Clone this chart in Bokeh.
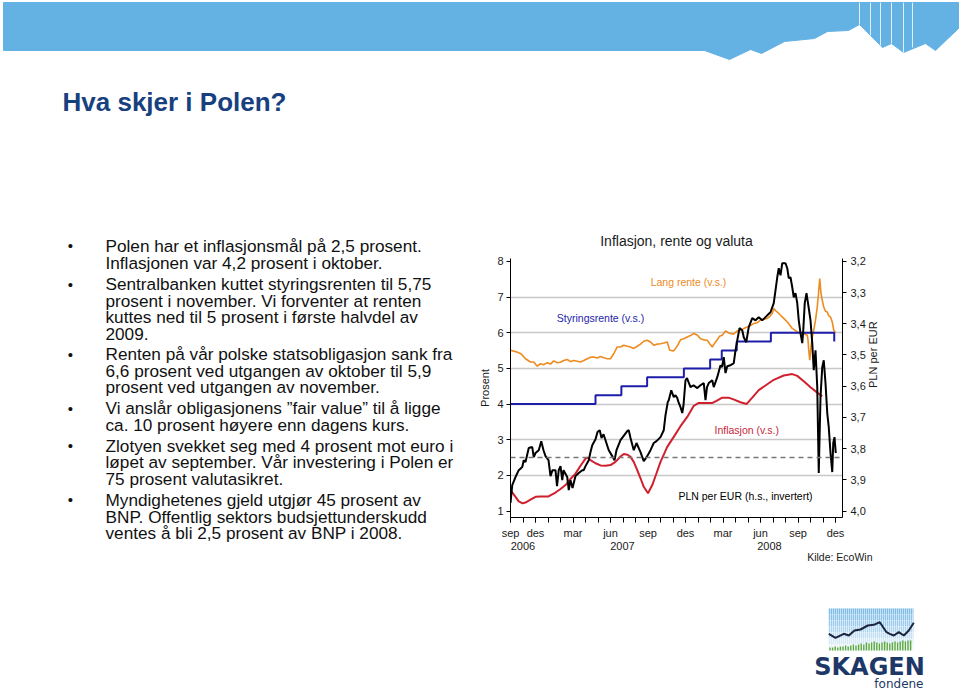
import json
import math
from bokeh.plotting import figure
from bokeh.layouts import column, row
from bokeh.models import Range1d, LinearAxis, FixedTicker, CustomJSTickFormatter, Span, Label, Title
from bokeh.embed import file_html
from bokeh.resources import INLINE
from bokeh.core.properties import value

# ---------------------------------------------------------------- data
MONTH_TICKS = [0, 2, 5, 8, 11, 14, 17, 20, 23, 26]
MONTH_LABELS = ["sep", "des", "mar", "jun", "sep", "des", "mar", "jun", "sep", "des"]
MONTH_MINOR = list(range(0, 27))
YEAR_TICKS = [1.0, 8.96, 20.72]
YEAR_LABELS = ["2006", "2007", "2008"]
PROSENT_TICKS = [1, 2, 3, 4, 5, 6, 7, 8]
GRID_TICKS = [2, 3, 4, 5, 6, 7]
PLN_TICKS = [3.2, 3.3, 3.4, 3.5, 3.6, 3.7, 3.8, 3.9, 4.0]
INFLATION_TARGET = 2.5

# months since start of axis, policy rate (step)
STYRING_M = [0.0, 6.8, 8.87, 10.93, 13.87, 15.97, 16.9, 18.1, 20.83, 25.9]
STYRING_V = [4.0, 4.25, 4.5, 4.75, 5.0, 5.25, 5.5, 5.75, 6.0, 5.75]

# long rate (month, percent)
LANG_RENTE = [
    (0.0, 5.51), (0.4, 5.47), (0.8, 5.42), (1.2, 5.27), (1.6, 5.18), (1.86, 5.18), (2.14, 5.06),
    (2.4, 5.13), (2.64, 5.10), (2.94, 5.16), (3.2, 5.12), (3.46, 5.21), (3.74, 5.16), (4.0, 5.17),
    (4.26, 5.22), (4.54, 5.25), (4.8, 5.19), (5.06, 5.22), (5.34, 5.20), (5.6, 5.18), (5.86, 5.22),
    (6.14, 5.27), (6.4, 5.31), (6.66, 5.32), (6.94, 5.29), (7.2, 5.33), (7.46, 5.30), (7.74, 5.27),
    (8.0, 5.27), (8.26, 5.41), (8.54, 5.60), (8.8, 5.60), (9.06, 5.65), (9.34, 5.62), (9.6, 5.60),
    (9.86, 5.56), (10.14, 5.62), (10.4, 5.68), (10.66, 5.76), (10.94, 5.79), (11.2, 5.74),
    (11.46, 5.65), (11.74, 5.68), (12.0, 5.69), (12.26, 5.71), (12.54, 5.74), (12.74, 5.51),
    (13.06, 5.49), (13.38, 5.65), (13.6, 5.80), (13.86, 5.83), (14.14, 5.88), (14.4, 5.92),
    (14.66, 5.98), (14.96, 5.93), (15.2, 5.83), (15.46, 5.80), (15.74, 5.79), (15.92, 5.70),
    (16.14, 5.60), (16.32, 5.70), (16.54, 5.80), (16.72, 5.90), (16.94, 5.93), (17.2, 6.05),
    (17.44, 6.00), (17.6, 5.98), (17.84, 5.96), (18.14, 6.05), (18.4, 6.06), (18.66, 6.12),
    (18.94, 6.16), (19.2, 6.20), (19.46, 6.26), (19.74, 6.28), (20.0, 6.35), (20.26, 6.38),
    (20.54, 6.40), (20.72, 6.45), (20.94, 6.54), (21.06, 6.68), (21.2, 6.62), (21.34, 6.58),
    (21.6, 6.49), (21.86, 6.40), (22.14, 6.30), (22.32, 6.22), (22.54, 6.12), (22.72, 6.08),
    (22.94, 6.02), (23.2, 5.99), (23.46, 5.98), (23.74, 5.93), (23.8, 5.80), (23.86, 5.51),
    (23.94, 5.23), (24.04, 5.60), (24.14, 5.88), (24.26, 6.07), (24.4, 6.35), (24.54, 6.72),
    (24.64, 7.10), (24.74, 7.52), (24.84, 7.10), (24.94, 6.91), (25.06, 6.72), (25.2, 6.60),
    (25.34, 6.58), (25.46, 6.48), (25.6, 6.44), (25.74, 6.30), (25.86, 6.07), (26.0, 6.00),
]

# inflation (month, percent)
INFLASJON = [
    (0.0, 1.59), (0.4, 1.40), (0.64, 1.28), (0.96, 1.215), (1.2, 1.24), (1.6, 1.32), (2.0, 1.40),
    (2.4, 1.41), (3.04, 1.41), (3.6, 1.52), (4.0, 1.62), (4.4, 1.73), (4.8, 1.90), (5.2, 2.05),
    (5.6, 2.27), (6.0, 2.47), (6.16, 2.50), (6.4, 2.43), (6.8, 2.34), (7.2, 2.28), (7.6, 2.27),
    (8.0, 2.29), (8.4, 2.38), (8.8, 2.53), (9.06, 2.60), (9.36, 2.58), (9.6, 2.52), (9.86, 2.38),
    (10.14, 2.15), (10.4, 1.92), (10.66, 1.68), (11.0, 1.50), (11.34, 1.73), (11.68, 2.06),
    (12.0, 2.38), (12.54, 2.80), (13.06, 3.08), (13.6, 3.38), (14.14, 3.64), (14.66, 3.95),
    (15.06, 4.03), (15.44, 4.03), (15.86, 4.03), (16.16, 4.03), (16.48, 4.09), (16.94, 4.18),
    (17.44, 4.18), (17.84, 4.13), (18.4, 4.05), (18.88, 4.00), (19.34, 4.18), (19.86, 4.39),
    (20.4, 4.52), (21.06, 4.68), (21.86, 4.80), (22.54, 4.84), (22.94, 4.79), (23.46, 4.64),
    (24.0, 4.47), (24.54, 4.32), (24.94, 4.22),
]

# PLN per EUR (month, rate) -- plotted on inverted right axis
PLN_EUR = [
    (0.0, 3.974), (0.14, 3.917), (0.4, 3.891), (0.66, 3.869), (0.94, 3.859), (1.06, 3.837),
    (1.2, 3.843), (1.46, 3.798), (1.74, 3.795), (1.86, 3.827), (2.0, 3.814), (2.26, 3.805),
    (2.46, 3.776), (2.64, 3.805), (2.8, 3.824), (3.04, 3.837), (3.2, 3.888), (3.36, 3.869),
    (3.6, 3.869), (3.72, 3.920), (3.86, 3.869), (4.0, 3.856), (4.14, 3.901), (4.24, 3.869),
    (4.54, 3.891), (4.66, 3.933), (4.8, 3.901), (4.96, 3.926), (5.2, 3.888), (5.46, 3.878),
    (5.74, 3.869), (5.86, 3.869), (6.0, 3.856), (6.26, 3.837), (6.4, 3.811), (6.54, 3.789),
    (6.8, 3.770), (6.96, 3.747), (7.14, 3.741), (7.28, 3.766), (7.44, 3.754), (7.6, 3.773),
    (7.86, 3.805), (8.14, 3.824), (8.32, 3.837), (8.48, 3.805), (8.8, 3.773), (9.04, 3.760),
    (9.34, 3.744), (9.46, 3.741), (9.6, 3.766), (9.86, 3.805), (10.08, 3.782), (10.4, 3.811),
    (10.66, 3.840), (10.94, 3.824), (11.2, 3.805), (11.46, 3.782), (11.68, 3.776), (12.0, 3.763),
    (12.26, 3.741), (12.4, 3.693), (12.58, 3.651), (12.66, 3.645), (12.86, 3.613), (13.06, 3.635),
    (13.2, 3.629), (13.34, 3.638), (13.44, 3.651), (13.6, 3.667), (13.74, 3.686), (13.84, 3.661),
    (14.0, 3.581), (14.12, 3.574), (14.4, 3.603), (14.64, 3.597), (14.94, 3.606), (15.2, 3.597),
    (15.46, 3.590), (15.6, 3.645), (15.72, 3.603), (15.86, 3.590), (16.14, 3.581), (16.26, 3.603),
    (16.54, 3.571), (16.8, 3.533), (16.92, 3.539), (17.06, 3.507), (17.2, 3.558), (17.34, 3.536),
    (17.6, 3.533), (17.86, 3.526), (18.0, 3.485), (18.14, 3.453), (18.32, 3.414), (18.54, 3.421),
    (18.66, 3.443), (18.86, 3.459), (19.06, 3.411), (19.34, 3.382), (19.6, 3.389), (19.86, 3.379),
    (20.14, 3.389), (20.32, 3.382), (20.54, 3.373), (20.8, 3.363), (21.06, 3.334), (21.2, 3.293),
    (21.34, 3.251), (21.46, 3.222), (21.6, 3.245), (21.74, 3.206), (22.0, 3.206), (22.14, 3.222),
    (22.26, 3.254), (22.4, 3.251), (22.54, 3.283), (22.66, 3.315), (22.8, 3.302), (22.94, 3.334),
    (23.06, 3.389), (23.2, 3.430), (23.34, 3.462), (23.42, 3.421), (23.54, 3.334), (23.68, 3.302),
    (23.86, 3.350), (24.0, 3.389), (24.14, 3.462), (24.26, 3.549), (24.4, 3.485), (24.54, 3.603),
    (24.66, 3.878), (24.8, 3.635), (24.94, 3.539), (25.06, 3.517), (25.2, 3.590), (25.34, 3.686),
    (25.46, 3.731), (25.6, 3.814), (25.74, 3.875), (25.82, 3.782), (25.92, 3.763), (26.02, 3.814),
]

BULLET_LINES = [
    "Polen har et inflasjonsmål på 2,5 prosent.",
    "Inflasjonen var 4,2 prosent i oktober.",
    "Sentralbanken kuttet styringsrenten til 5,75",
    "prosent i november. Vi forventer at renten",
    "kuttes ned til 5 prosent i første halvdel av",
    "2009.",
    "Renten på vår polske statsobligasjon sank fra",
    "6,6 prosent ved utgangen av oktober til 5,9",
    "prosent ved utgangen av november.",
    "Vi anslår obligasjonens ”fair value” til å ligge",
    "ca. 10 prosent høyere enn dagens kurs.",
    "Zlotyen svekket seg med 4 prosent mot euro i",
    "løpet av september. Vår investering i Polen er",
    "75 prosent valutasikret.",
    "Myndighetenes gjeld utgjør 45 prosent av",
    "BNP. Offentlig sektors budsjettunderskudd",
    "ventes å bli 2,5 prosent av BNP i 2008.",
]

# ---------------------------------------------------------------- layout / style
FONT = "Liberation Sans"
ORANGE = "#EE8B1E"
BLUE = "#1E1EAA"
RED = "#D0202E"
NAVY = "#17407F"
LINE_Y = [245, 262.5, 283.5, 300, 316.5, 333, 353.5, 370, 386.5, 407.5, 424.5,
          445, 461.5, 478, 499, 516, 532.5]
BULLET_Y = [245, 283.5, 353.5, 407.5, 445, 499]


def blank(w, h, x0, y0):
    f = figure(width=w, height=h, x_range=Range1d(x0, x0 + w), y_range=Range1d(y0 + h, y0),
               toolbar_location=None, output_backend="svg", min_border=0,
               x_axis_location=None, y_axis_location=None, outline_line_color=None)
    f.grid.grid_line_color = None
    return f


# ---- header: banner + title
top = blank(960, 140, 0, 0)
banner_x = [3, 958, 958, 935, 925, 903, 891, 882, 859, 848, 827, 814, 784, 761, 750, 729, 704, 3]
banner_y = [2, 2, 28, 50, 43, 52, 43, 47, 24, 30, 31, 38, 41, 53, 49, 59, 50, 50]
top.patch(banner_x, banner_y, fill_color="#64B1E4", line_color="#64B1E4")
stripe_x = [859, 870, 880, 891, 903, 912]
stripe_y1 = [24, 35, 45, 43, 52, 47]
top.segment(x0=stripe_x, y0=[2] * 6, x1=stripe_x, y1=stripe_y1, line_color="white",
            line_width=1, line_alpha=0.8)
top.text(x=[62], y=[101], text=["Hva skjer i Polen?"], text_font=value(FONT),
         text_font_style="bold", text_font_size="26px", text_color=NAVY, text_baseline="middle")

# ---- left: bullet text
left = blank(470, 430, 0, 140)
left.text(x=[70] * len(BULLET_Y), y=BULLET_Y, text=["•"] * len(BULLET_Y), text_font=value(FONT),
          text_font_size="15px", text_color="#111111", text_baseline="middle", text_align="center")
left.text(x=[105] * len(BULLET_LINES), y=LINE_Y, text=BULLET_LINES, text_font=value(FONT),
          text_font_size="17.2px", text_color="#111111", text_baseline="middle")

# ---- chart
p = figure(width=490, height=430, x_range=Range1d(0, 26.56), y_range=Range1d(0.82, 8.08),
           toolbar_location=None, output_backend="svg",
           min_border_left=40, min_border_right=118, min_border_top=118, min_border_bottom=53,
           outline_line_color=None, title="Inflasjon, rente og valuta")
p.extra_y_ranges = {"pln": Range1d(4.0206, 3.1909)}
p.title.align = "center"
p.title.text_font = FONT
p.title.text_font_size = "14px"
p.title.text_font_style = "normal"
p.title.text_color = "#1a1a1a"
p.title.standoff = 20

p.xgrid.visible = False
p.ygrid.ticker = FixedTicker(ticks=GRID_TICKS)
p.ygrid.grid_line_color = "#C8C8C8"
p.ygrid.grid_line_width = 1.5


def style_axis(ax):
    ax.axis_line_color = "black"
    ax.major_tick_line_color = "black"
    ax.minor_tick_line_color = "black"
    ax.major_tick_in = 0
    ax.major_tick_out = 4
    ax.minor_tick_in = 0
    ax.minor_tick_out = 4
    ax.major_label_text_font = FONT
    ax.major_label_text_font_size = "11px"
    ax.major_label_text_color = "#1a1a1a"
    ax.axis_label_text_font = FONT
    ax.axis_label_text_font_size = "11px"
    ax.axis_label_text_font_style = "normal"
    ax.axis_label_text_color = "#1a1a1a"


yax = p.yaxis[0]
yax.ticker = FixedTicker(ticks=PROSENT_TICKS)
yax.axis_label = "Prosent"
style_axis(yax)
yax.major_label_standoff = 3
yax.axis_label_standoff = 3

pln_axis = LinearAxis(y_range_name="pln", ticker=FixedTicker(ticks=PLN_TICKS),
                      formatter=CustomJSTickFormatter(code="return tick.toFixed(1).replace('.', ',');"),
                      axis_label="PLN per EUR")
style_axis(pln_axis)
pln_axis.major_label_standoff = 4
pln_axis.axis_label_standoff = 4
pln_axis.axis_label_orientation = math.pi / 2
p.add_layout(pln_axis, "right")

xax = p.xaxis[0]
xax.ticker = FixedTicker(ticks=MONTH_TICKS, minor_ticks=MONTH_MINOR)
xax.formatter = CustomJSTickFormatter(code="const pos = %s; const lab = %s; const i = pos.indexOf(tick); return i < 0 ? '' : lab[i];"
                                      % (json.dumps(MONTH_TICKS), json.dumps(MONTH_LABELS)))
style_axis(xax)
xax.major_tick_out = 5
xax.minor_tick_out = 5
xax.major_label_standoff = 4

year_axis = LinearAxis(ticker=FixedTicker(ticks=YEAR_TICKS),
                       formatter=CustomJSTickFormatter(code="const pos = %s; const lab = %s; let b = 0; for (let k = 1; k < pos.length; k++) { if (Math.abs(pos[k]-tick) < Math.abs(pos[b]-tick)) b = k; } return lab[b];"
                                                       % (json.dumps(YEAR_TICKS), json.dumps(YEAR_LABELS))))
style_axis(year_axis)
year_axis.axis_line_color = None
year_axis.major_tick_line_color = None
year_axis.minor_tick_line_color = None
year_axis.major_tick_out = 0
year_axis.major_label_standoff = 0
p.add_layout(year_axis, "below")

p.add_layout(Title(text="Kilde: EcoWin", align="right", offset=-30, standoff=-8,
                   text_font=FONT, text_font_size="10.5px", text_font_style="normal",
                   text_color="#1a1a1a"), "below")

p.add_layout(Span(location=INFLATION_TARGET, dimension="width", line_color="#777777",
                  line_dash="5 4", line_width=1.5))

lx, ly = zip(*LANG_RENTE)
p.line(list(lx), list(ly), line_color=ORANGE, line_width=1.6)
p.step(STYRING_M, STYRING_V, mode="after", line_color=BLUE, line_width=2)
ix, iy = zip(*INFLASJON)
p.line(list(ix), list(iy), line_color=RED, line_width=2)
bx, by = zip(*PLN_EUR)
p.line(list(bx), list(by), y_range_name="pln", line_color="black", line_width=2)

for txt, x, y, col in [("Styringsrente (v.s.)", 7.2, 6.40, BLUE),
                       ("Lang rente (v.s.)", 14.24, 7.41, ORANGE),
                       ("Inflasjon (v.s.)", 18.9, 3.27, "#C8283A"),
                       ("PLN per EUR (h.s., invertert)", 18.8, 1.42, "black")]:
    p.add_layout(Label(x=x, y=y, text=txt, text_align="center", text_baseline="middle",
                       text_font=FONT, text_font_size="10.5px", text_color=col))

# ---- logo
logo = blank(960, 120, 0, 570)
band_top = [608, 614, 620, 626, 632, 638, 644]
band_col = ["#7DBBE8", "#8CC3EA", "#9DCBEE", "#AFD5F1", "#C2DFF4", "#D6E9F7", "#E8F2FA"]
logo.quad(left=828, right=913, top=band_top, bottom=[b + 6 for b in band_top], fill_color=band_col,
          line_color=None)
sx = [828 + 2 * k for k in range(43)]
logo.segment(x0=sx, y0=[608] * len(sx), x1=sx, y1=[650] * len(sx), line_color="white",
             line_width=0.8, line_alpha=0.7)
gx = [829.5 + 2.6 * k for k in range(32)]
gh = [3, 3, 4, 3, 4, 4, 5, 4, 5, 6, 5, 6, 7, 6, 8, 7, 8, 9, 8, 7, 8, 9, 8, 7, 8, 9, 8, 9, 10, 9, 10, 10]
logo.quad(left=[g - 0.7 for g in gx], right=[g + 0.7 for g in gx], top=[650 - h for h in gh],
          bottom=650, fill_color="#5DAA3C", line_color=None)
lgx = [828.3, 835, 843.3, 848.3, 854, 860, 867.3, 873.3, 879.3, 886, 889.3, 893.3, 898.3, 903.3, 908.3, 913.3]
lgy = [633.3, 637.3, 633.3, 635, 630, 629, 625, 624.3, 621.7, 631.7, 633.3, 635, 631.7, 635, 630, 622.3]
logo.line(lgx, lgy, line_color="#1C2440", line_width=2)
logo.text(x=[869], y=[666], text=["SKAGEN"], text_font=value("DejaVu Sans"), text_font_style="bold",
          text_font_size="24px", text_color="#1D3767", text_align="center", text_baseline="middle")
logo.text(x=[923], y=[683], text=["fondene"], text_font=value("DejaVu Sans"),
          text_font_size="12px", text_color="#1D3767", text_align="right", text_baseline="middle")

layout = column(top, row(left, column(p)), logo)
open("out.html", "w").write(file_html(layout, INLINE))
